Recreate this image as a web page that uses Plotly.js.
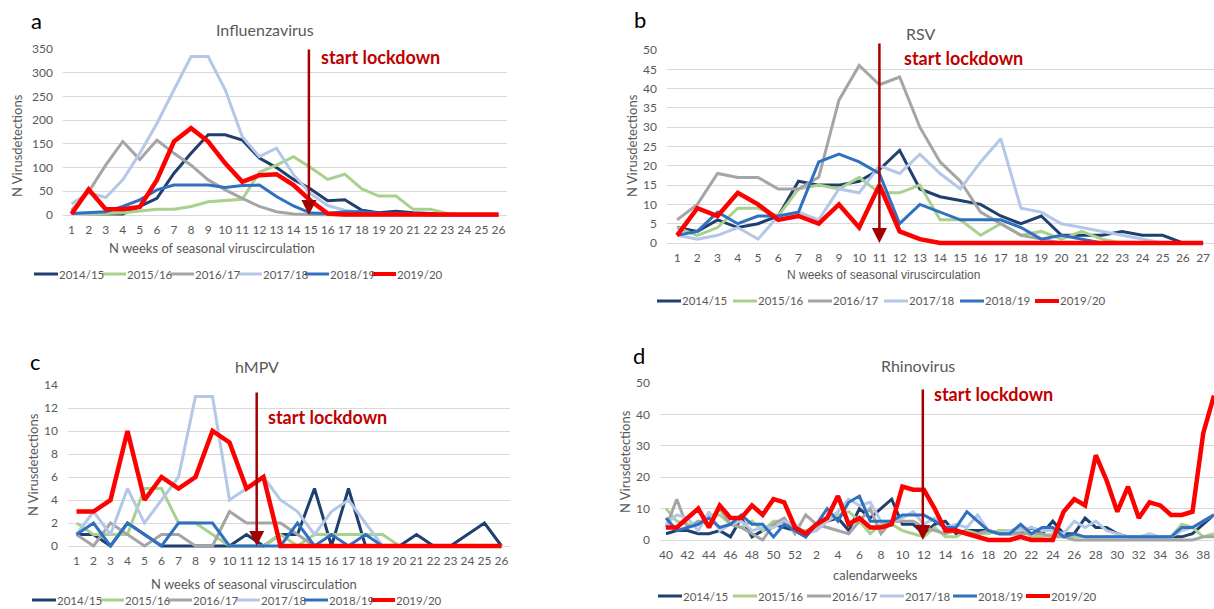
<!DOCTYPE html>
<html><head><meta charset="utf-8">
<script src="https://cdn.plot.ly/plotly-3.0.1.min.js"></script>
<style>html,body{margin:0;padding:0;background:#fff}#chart{width:1214px;height:609px}</style>
</head><body><div id="chart"></div>
<script>
// ---------- data ----------
const seasons = ['2014/15','2015/16','2016/17','2017/18','2018/19','2019/20'];
const colors = ['#1F3F6E','#A9D18E','#A5A5A5','#B4C7E7','#3070C0','#FF0000'];

const weeksA = ['1','2','3','4','5','6','7','8','9','10','11','12','13','14','15','16','17','18','19','20','21','22','23','24','25','26'];
const fluA_1415 = [3,3,3,2,18,35,88,130,169,169,158,120,100,75,55,30,32,10,5,8,5,3,1,0,0,0];
const fluA_1516 = [3,3,3,5,8,12,12,18,28,30,33,90,105,123,100,75,86,55,40,40,12,12,3,0,0,0];
const fluA_1617 = [10,49,105,155,117,158,130,105,74,53,35,18,7,2,1,0,0,0,0,0,0,0,0,0,0,0];
const fluA_1718 = [23,47,37,74,130,193,264,334,334,264,165,123,141,85,45,20,10,5,3,2,1,1,0,0,0,0];
const fluA_1819 = [3,5,7,18,32,53,63,63,63,58,62,63,39,19,4,3,7,7,3,2,2,0,0,0,0,0];
const fluA_1920 = [2,54,12,12,17,74,155,183,155,109,70,84,86,63,30,3,1,1,1,1,1,1,1,1,1,1];

const weeksB = ['1','2','3','4','5','6','7','8','9','10','11','12','13','14','15','16','17','18','19','20','21','22','23','24','25','26','27'];
const rsv_1415 = [4,3,6,4,5,7,16,15,15,16,19,24,14,12,11,10,7,5,7,2,2,2,3,2,2,0,0];
const rsv_1516 = [4,2,4,9,9,7,14,15,14,17,13,13,15,6,6,2,5,2,3,1,3,1,0,0,0,0,0];
const rsv_1617 = [6,10,18,17,17,14,14,17,37,46,41,43,30,21,16,8,5,2,1,0,0,0,0,0,0,0,0];
const rsv_1718 = [2,1,2,4,1,7,8,6,14,13,20,18,23,18,14,21,27,9,8,5,4,3,2,1,0,0,0];
const rsv_1819 = [2,3,8,5,7,7,8,21,23,21,18,5,10,8,6,6,6,4,1,2,1,0,0,0,0,0,0];
const rsv_1920 = [2,9,7,13,10,6,7,5,10,4,15,3,1,0,0,0,0,0,0,0,0,0,0,0,0,0,0];

const weeksC = ['1','2','3','4','5','6','7','8','9','10','11','12','13','14','15','16','17','18','19','20','21','22','23','24','25','26'];
const hmpv_1415 = [1,1,0,2,1,0,0,0,0,0,1,0,1,1,5,0,5,0,0,0,1,0,0,1,2,0];
const hmpv_1516 = [2,1,1,1,5,5,2,2,1,0,0,0,1,0,1,1,1,1,1,0,0,0,0,0,0,0];
const hmpv_1617 = [1,0,2,1,0,1,1,0,0,3,2,2,2,1,0,0,0,0,0,0,0,0,0,0,0,0];
const hmpv_1718 = [1,3,1,5,2,4,6,13,13,4,5,6,4,3,1,3,4,2,0,null,null,null,null,null,null,null];
const hmpv_1819 = [1,2,0,2,1,0,2,2,2,0,0,0,0,2,0,1,0,1,0,null,null,null,null,null,null,null];
const hmpv_1920 = [3,3,4,10,4,6,5,6,10,9,5,6,0,0,0,0,0,0,0,0,0,0,0,0,0,0];

const weeksD = ['40','41','42','43','44','45','46','47','48','49','50','51','52','1','2','3','4','5','6','7','8','9','10','11','12','13','14','15','16','17','18','19','20','21','22','23','24','25','26','27','28','29','30','31','32','33','34','35','36','37','38','39'];
const rhino_1415 = [2,3,3,2,2,3,1,7,1,3,5,4,3,1,5,6,7,3,10,7,10,13,5,5,2,5,6,2,3,3,3,2,2,2,4,2,6,2,2,7,4,4,2,1,1,1,1,1,1,2,5,8];
const rhino_1516 = [10,6,5,5,8,8,5,4,6,3,6,6,3,3,4,6,8,9,6,2,5,5,3,2,1,4,1,1,3,2,2,3,3,4,1,1,2,1,1,1,1,1,1,1,1,1,1,1,5,4,1,2];
const rhino_1617 = [4,13,4,6,5,10,5,4,2,0,5,7,2,8,5,4,3,2,6,10,2,6,6,6,4,3,2,3,2,2,3,2,2,2,2,2,1,1,0,0,0,0,0,0,0,0,0,0,0,0,1,1];
const rhino_1718 = [5,8,7,3,9,3,5,6,3,4,4,6,5,2,3,6,9,13,11,12,6,6,7,9,5,7,4,5,4,8,3,2,3,3,4,3,3,2,6,4,6,3,2,1,1,2,1,1,3,4,6,8];
const rhino_1819 = [7,3,4,5,7,4,5,8,5,5,1,5,3,1,5,10,6,12,14,6,6,6,8,8,8,6,4,4,9,6,3,2,2,5,2,4,4,1,2,1,1,1,1,1,1,1,1,1,4,4,6,8];
const rhino_1920 = [4,4,7,10,4,11,7,7,11,8,13,12,4,2,5,7,14,5,7,4,4,5,17,16,16,10,3,3,2,1,0,0,0,1,0,0,0,9,13,11,27,19,9,17,7,12,11,8,8,9,34,46];

// ---------- geometry helpers ----------
const W = 1214, H = 609;
const px = x => x / W;
const py = y => 1 - y / H;
const FONT = 'Lato, "Open Sans", sans-serif';
const GREY = '#595959';

function mk(xa, ya, x, ys) {
  return ys.map((y, k) => ({
    type: 'scatter', mode: 'lines', x: x, y: y, xaxis: xa, yaxis: ya,
    line: {color: colors[k], width: k === 5 ? 4.5 : 3}, connectgaps: false,
    name: seasons[k], hoverinfo: 'skip'
  }));
}

const data = [].concat(
  mk('x', 'y', weeksA, [fluA_1415, fluA_1516, fluA_1617, fluA_1718, fluA_1819, fluA_1920]),
  mk('x2', 'y2', weeksB, [rsv_1415, rsv_1516, rsv_1617, rsv_1718, rsv_1819, rsv_1920]),
  mk('x3', 'y3', weeksC, [hmpv_1415, hmpv_1516, hmpv_1617, hmpv_1718, hmpv_1819, hmpv_1920]),
  mk('x4', 'y4', weeksD, [rhino_1415, rhino_1516, rhino_1617, rhino_1718, rhino_1819, rhino_1920])
);

function xax(d0, d1, r0, r1, anchor, extra) {
  return Object.assign({domain: [px(d0), px(d1)], anchor: anchor, type: 'category', range: [r0, r1],
    showgrid: false, zeroline: false, showline: false, ticks: '', ticklabelstandoff: 2,
    tickfont: {family: FONT, size: 12, color: GREY}, fixedrange: true}, extra || {});
}
function yax(top, zero, vmax, dtick, anchor) {
  const pad = 4;
  const lo = -pad * vmax / (zero - top);
  return {domain: [py(zero + pad), py(top)], anchor: anchor, range: [lo, vmax + 1e-6], dtick: dtick,
    showgrid: true, gridcolor: '#D9D9D9', gridwidth: 1, zeroline: true, zerolinecolor: '#D9D9D9', zerolinewidth: 1,
    showline: false, ticks: '', ticklabelstandoff: 9,
    tickfont: {family: FONT, size: 12, color: GREY}, fixedrange: true};
}

const ann = [];
const shapes = [];
function txt(t, x, y, size, color, opts) {
  ann.push(Object.assign({text: t, x: px(x), y: py(y), xref: 'paper', yref: 'paper', showarrow: false,
    xanchor: 'center', yanchor: 'middle', font: {family: FONT, size: size, color: color}}, opts || {}));
}
// panel letters
txt('a', 36, 21, 22, '#000');
txt('b', 640, 20, 22, '#000');
txt('c', 35, 361, 22, '#000');
txt('d', 639, 356, 22, '#000');
// titles
txt('Influenzavirus', 265, 29, 16, GREY);
txt('RSV', 920, 33, 16, GREY);
txt('hMPV', 257, 366, 16, GREY);
txt('Rhinovirus', 918, 365, 16, GREY);
// y axis titles
txt('N Virusdetections', 17, 146, 13, GREY, {textangle: -90});
txt('N Virusdetections', 632, 146, 13, GREY, {textangle: -90});
txt('N Virusdetections', 33, 465, 13, GREY, {textangle: -90});
txt('N Virusdetections', 625, 462, 13, GREY, {textangle: -90});
// x axis titles
txt('N weeks of seasonal viruscirculation', 212, 248, 13, GREY);
txt('N weeks of seasonal viruscirculation', 883, 275, 13, GREY, {font: {family: 'Liberation Sans, Arial, sans-serif', size: 12, color: GREY}});
txt('N weeks of seasonal viruscirculation', 254, 584, 13, GREY);
txt('calendarweeks', 875, 575, 13, GREY);
// lockdown labels
const LRED = '#C00000';
txt('<b>start lockdown</b>', 380, 57, 18, LRED);
txt('<b>start lockdown</b>', 963, 58, 18, LRED);
txt('<b>start lockdown</b>', 327, 417, 18, LRED);
txt('<b>start lockdown</b>', 993, 394, 18, LRED);
// lockdown arrows (tip at y = 0, tail given in pixels)
function arrow(xr, yr, xv, tailPix, zeroPix) {
  ann.push({text: '', x: xv, y: 0, xref: xr, yref: yr, ax: 0, ay: -(zeroPix - tailPix), axref: 'pixel', ayref: 'pixel',
    showarrow: true, arrowhead: 2, arrowsize: 1.2, arrowwidth: 2.5, arrowcolor: '#A50000', standoff: 0});
}
arrow('x', 'y', 13.9, 47, 214);
arrow('x2', 'y2', 10.0, 40, 241);
arrow('x3', 'y3', 10.6, 389, 544);
arrow('x4', 'y4', 23.9, 389, 541);

// legends
function legend(y, starts) {
  starts.forEach((s, k) => {
    shapes.push({type: 'line', xref: 'paper', yref: 'paper', x0: px(s), x1: px(s + 24), y0: py(y), y1: py(y),
      line: {color: colors[k], width: k === 5 ? 4 : 3}});
    txt(seasons[k], s + 23, y, 11.5, GREY, {xanchor: 'left'});
  });
}
legend(274, [34, 102, 170, 238, 305, 372]);
legend(301, [657, 733, 808, 884, 960, 1035]);
legend(600, [32, 100, 168, 236, 304, 371]);
legend(596, [658, 733, 807, 880, 953, 1026]);

const layout = {
  width: W, height: H, margin: {l: 0, r: 0, t: 0, b: 0}, paper_bgcolor: '#fff', plot_bgcolor: 'rgba(0,0,0,0)',
  showlegend: false, font: {family: FONT, color: GREY},
  xaxis: xax(63, 507, -0.5, 25.5, 'y'),
  yaxis: yax(49, 215, 350, 50, 'x'),
  xaxis2: xax(667, 1214, -0.5, 26.54, 'y2'),
  yaxis2: yax(50, 243, 50, 5, 'x2'),
  xaxis3: xax(68, 510, -0.5, 25.5, 'y3'),
  yaxis3: yax(385, 546, 14, 2, 'x3'),
  xaxis4: xax(660, 1214, -0.56, 51, 'y4', {dtick: 2}),
  yaxis4: yax(383, 540, 50, 10, 'x4'),
  annotations: ann, shapes: shapes
};
Plotly.newPlot('chart', data, layout, {staticPlot: true, displayModeBar: false});
</script></body></html>
